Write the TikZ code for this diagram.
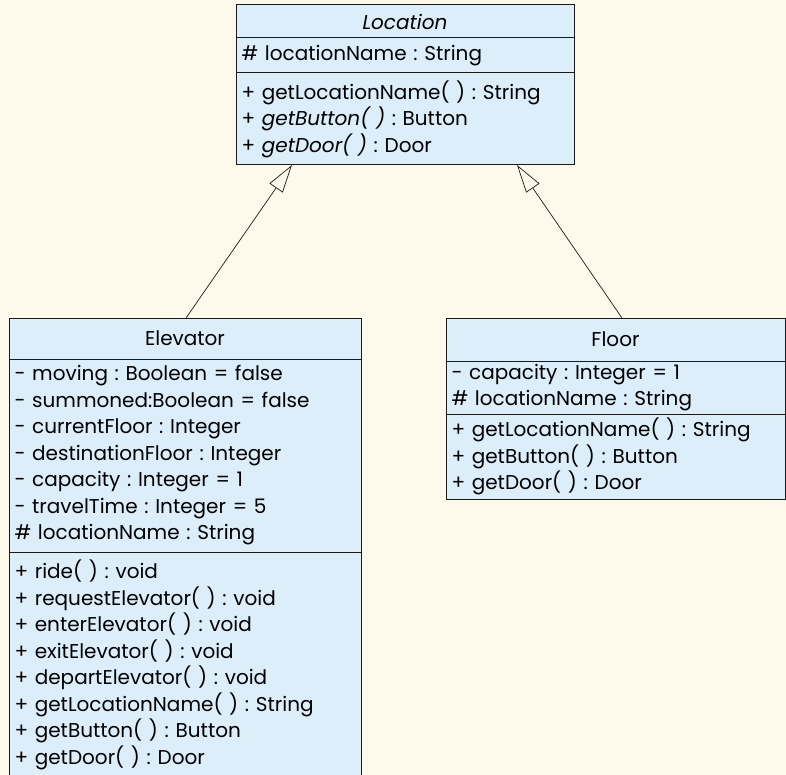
\documentclass[tikz,border=0pt]{standalone}
\usepackage{fontspec}
\setmainfont{Poppins}
\usetikzlibrary{arrows.meta,positioning}
\definecolor{paper}  {HTML}{FEFAEB}
\definecolor{boxfill}{HTML}{DCEEFA}
\definecolor{ink}    {HTML}{1A1A1A}
\newcommand{\umlfont}{\fontsize{20}{26.5}\selectfont\frenchspacing}

\tikzset{
  umlpart/.style={draw=ink,line width=1pt,fill=boxfill,outer sep=0pt,
                  inner xsep=5.5pt,inner ysep=0pt,align=left,font=\umlfont,
                  anchor=north west},
  umlname/.style={umlpart,align=center},
  inherits/.style={draw=ink,line width=0.7pt,
                   -{Triangle[open,length=28pt,width=16pt]}}
}

\begin{document}
\begin{tikzpicture}[x=1pt,y=-1pt]
  \fill[paper] (0,0) rectangle (786,775);
  \useasboundingbox (0,0) rectangle (786,775);

  % abstract superclass
  \node[umlname,text width=327pt,minimum height=33pt] (locName) at (236,5)
    {\itshape Location};
  \node[umlpart,text width=327pt,minimum height=35pt,below=0pt of locName] (locAttr)
    {\# locationName : String};
  \node[umlpart,text width=327pt,minimum height=92pt,below=0pt of locAttr] (locOps)
    {+ getLocationName( ) : String\\
     + \textit{getButton( )} : Button\\
     + \textit{getDoor( )} : Door};

  % Elevator
  \node[umlname,text width=341pt,minimum height=41pt] (elevName) at (9,318)
    {Elevator};
  \node[umlpart,text width=341pt,minimum height=193pt,below=0pt of elevName] (elevAttr)
    {- moving : Boolean = false\\
     - summoned:Boolean = false\\
     - currentFloor : Integer\\
     - destinationFloor : Integer\\
     - capacity : Integer = 1\\
     - travelTime : Integer = 5\\
     \# locationName : String};
  \node[umlpart,text width=341pt,minimum height=226pt,below=0pt of elevAttr] (elevOps)
    {+ ride( ) : void\\
     + requestElevator( ) : void\\
     + enterElevator( ) : void\\
     + exitElevator( ) : void\\
     + departElevator( ) : void\\
     + getLocationName( ) : String\\
     + getButton( ) : Button\\
     + getDoor( ) : Door};

  % Floor
  \node[umlname,text width=328pt,minimum height=43pt] (floorName) at (446,318)
    {Floor};
  \node[umlpart,text width=328pt,minimum height=53pt,below=0pt of floorName] (floorAttr)
    {- capacity : Integer = 1\\
     \# locationName : String};
  \node[umlpart,text width=328pt,minimum height=85pt,below=0pt of floorAttr] (floorOps)
    {+ getLocationName( ) : String\\
     + getButton( ) : Button\\
     + getDoor( ) : Door};

  % generalization
  \draw[inherits] ([xshift=177pt]elevName.north west) -- ([xshift=56pt]locOps.south west);
  \draw[inherits] ([xshift=176pt]floorName.north west) -- ([xshift=281pt]locOps.south west);
\end{tikzpicture}
\end{document}
